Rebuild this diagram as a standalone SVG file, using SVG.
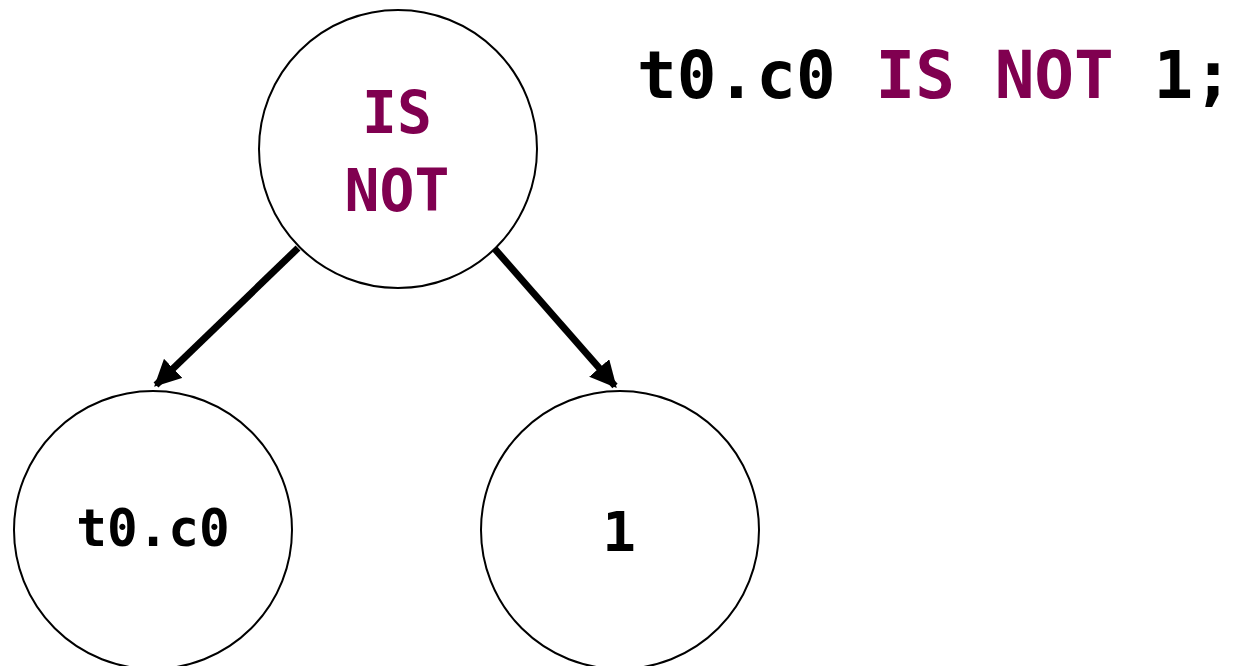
<svg xmlns="http://www.w3.org/2000/svg" width="1248" height="666" viewBox="0 0 1248 666">
  <style>
    .node { fill: #ffffff; stroke: #000000; stroke-width: 2; }
    .mono { font-family: "DejaVu Sans Mono", "Liberation Mono", monospace; font-weight: bold; }
    .kw { fill: #800050; }
    .lit { fill: #000000; }
    .edge { stroke: #000000; stroke-width: 7; fill: none; }
  </style>
  <defs>
    <marker id="arrow" viewBox="0 0 10 10" refX="9" refY="5" markerWidth="3.8" markerHeight="3.8" orient="auto" markerUnits="strokeWidth">
      <path d="M0,0 L10,5 L0,10 Z" fill="#000000"/>
    </marker>
  </defs>
  <rect width="1248" height="666" fill="#ffffff"/>

  <!-- expression source -->
  <text class="mono" x="637" y="98" font-size="66"><tspan class="lit">t0.c0 </tspan><tspan class="kw">IS NOT</tspan><tspan class="lit"> 1;</tspan></text>

  <g id="connectors">
    <line class="edge" x1="298" y1="248" x2="156" y2="385" marker-end="url(#arrow)"/>
    <line class="edge" x1="494" y1="248" x2="615" y2="386" marker-end="url(#arrow)"/>
  </g>

  <g id="node-isnot">
    <circle class="node" cx="398" cy="149" r="139"/>
    <text class="mono kw" x="397" y="133" font-size="58" text-anchor="middle">IS</text>
    <text class="mono kw" x="397" y="211" font-size="58" text-anchor="middle">NOT</text>
  </g>

  <g id="node-col">
    <circle class="node" cx="153" cy="530" r="139"/>
    <text class="mono lit" x="153" y="546" font-size="51" text-anchor="middle">t0.c0</text>
  </g>

  <g id="node-lit">
    <circle class="node" cx="620" cy="530" r="139"/>
    <text class="mono lit" x="619" y="551" font-size="56" text-anchor="middle">1</text>
  </g>
</svg>
